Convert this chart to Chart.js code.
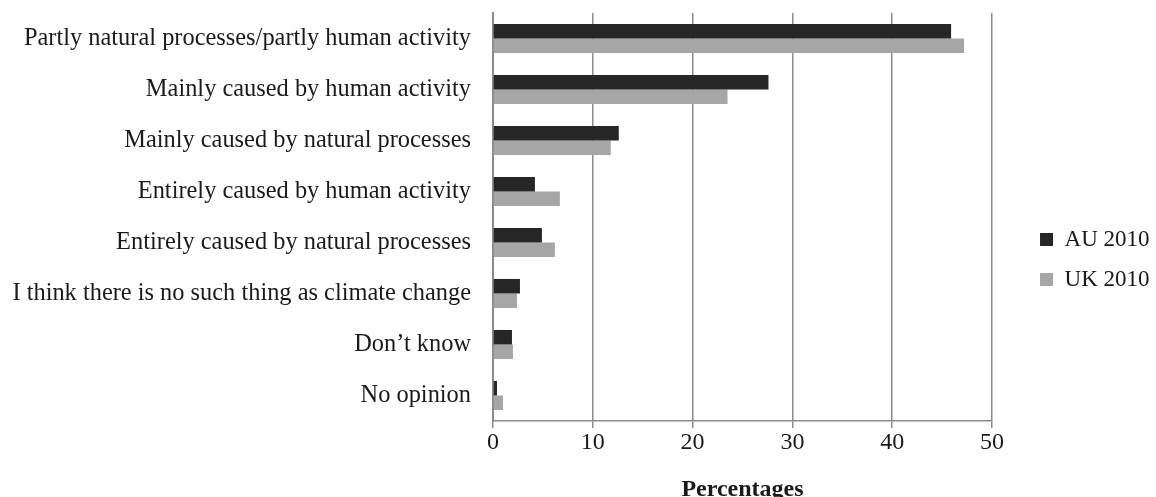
<!DOCTYPE html>
<html lang="en">

<head>
    <meta charset="UTF-8">
    <title>Causes of climate change</title>
    <script src="https://cdn.jsdelivr.net/npm/chart.js"></script>
    <style>
        body {
            background-color: #ffffff;
            margin: 0;
            padding: 0;
        }

        #wrap {
            width: 1156px;
            height: 497px;
            position: relative;
        }
    </style>
</head>

<body>
    <div id="wrap"><canvas id="causesChart"></canvas></div>

    <script>
        const categories = [
            'Partly natural processes/partly human activity',
            'Mainly caused by human activity',
            'Mainly caused by natural processes',
            'Entirely caused by human activity',
            'Entirely caused by natural processes',
            'I think there is no such thing as climate change',
            'Don\u2019t know',
            'No opinion'
        ];
        const au2010 = [45.9, 27.6, 12.6, 4.2, 4.9, 2.7, 1.9, 0.4];
        const uk2010 = [47.2, 23.5, 11.8, 6.7, 6.2, 2.4, 2.0, 1.0];
        const xTicks = [0, 10, 20, 30, 40, 50];

        const serif = '"Liberation Serif", "Times New Roman", serif';
        const gridGrey = '#8a8a8a';
        const textCol = '#1a1a1a';

        // legend sits further right of the plot than chart.js puts it
        const legendNudge = {
            id: 'legendNudge',
            afterLayout(chart) {
                const lg = chart.legend;
                lg.left += 31;
                lg.right += 31;
                lg.top += 4.5;
                lg.bottom += 4.5;
            }
        };

        const ctx = document.getElementById('causesChart').getContext('2d');

        new Chart(ctx, {
            type: 'bar',
            data: {
                labels: categories,
                datasets: [
                    { label: 'AU 2010', data: au2010, backgroundColor: '#262626', borderWidth: 0 },
                    { label: 'UK 2010', data: uk2010, backgroundColor: '#a6a6a6', borderWidth: 0 }
                ]
            },
            options: {
                indexAxis: 'y',
                responsive: true,
                maintainAspectRatio: false,
                animation: false,
                categoryPercentage: 0.57,
                barPercentage: 1.0,
                layout: { padding: { top: 13, right: 27.5, bottom: 0, left: 0 } },
                plugins: {
                    tooltip: { enabled: false },
                    legend: {
                        position: 'right',
                        labels: {
                            color: textCol,
                            font: { family: serif, size: 23 },
                            boxWidth: 13,
                            boxHeight: 13,
                            padding: 17
                        }
                    }
                },
                scales: {
                    x: {
                        min: 0,
                        max: 50,
                        afterBuildTicks: axis => { axis.ticks = xTicks.map(v => ({ value: v })); },
                        ticks: { color: textCol, font: { family: serif, size: 24 }, padding: 0 },
                        grid: { color: gridGrey, lineWidth: 1.5, tickLength: 7, drawTicks: true },
                        border: { color: gridGrey, width: 1.5 },
                        title: {
                            display: true,
                            text: 'Percentages',
                            color: textCol,
                            font: { family: serif, size: 24, weight: 'bold' },
                            padding: { top: 18.4, bottom: -7 }
                        }
                    },
                    y: {
                        afterFit: scale => {
                            scale.width = 493;
                            scale.paddingTop = 0;
                            scale.paddingBottom = 0;
                        },
                        ticks: { color: textCol, font: { family: serif, size: 24.4 }, padding: 22 },
                        grid: { display: false, drawTicks: false },
                        border: { color: gridGrey, width: 2 }
                    }
                }
            },
            plugins: [legendNudge]
        });
    </script>
</body>

</html>
